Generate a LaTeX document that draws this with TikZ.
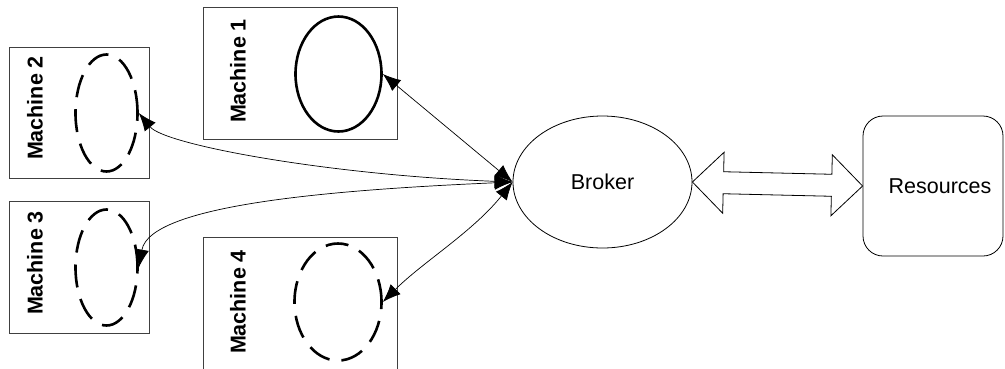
\documentclass[tikz,border=0pt]{standalone}
\usepackage{fontspec}
\setmainfont{Liberation Sans}
\usetikzlibrary{shapes.geometric,arrows.meta,calc}
\begin{document}
\begin{tikzpicture}[x=1pt,y=-1pt,
  machbox/.style={draw=black!75, line width=0.8pt, rectangle, inner sep=0pt},
  machlabel/.style={rotate=90, font=\fontsize{21.5}{25}\selectfont\bfseries, inner sep=0pt},
  proc/.style={draw=black, ellipse, line width=2.6pt, inner sep=0pt},
  idle/.style={proc, dash pattern=on 23pt off 12pt},
  link/.style={line width=0.7pt, {Latex[length=18pt,width=14pt]}-{Latex[length=18pt,width=14pt]}},
  plain/.style={font=\fontsize{21.5}{25}\selectfont, inner sep=0pt}]
\useasboundingbox (0,0) rectangle (1005,368);
\clip (0,0) rectangle (1005,368);

% machine boxes
\node[machbox, minimum width=194, minimum height=132] (m1) at (300,73) {};
\node[machbox, minimum width=140, minimum height=131] (m2) at (79,112.5) {};
\node[machbox, minimum width=140, minimum height=132] (m3) at (79,267) {};
\node[machbox, minimum width=194, minimum height=132] (m4) at (300,303) {};

% machine names
\node[machlabel] (l1) at (238,71) {Machine 1};
\node[machlabel] (l2) at (35,108) {Machine 2};
\node[machlabel] (l3) at (35,263) {Machine 3};
\node[machlabel] (l4) at (238,302) {Machine 4};

% processes inside the machines
\node[proc, minimum width=86, minimum height=115] (m1e) at (338.5,74) {};
\node[idle, minimum width=62, minimum height=117] (m2e) at (106.5,113) {};
\node[idle, minimum width=62, minimum height=116] (m3e) at (106.5,267.5) {};
\node[idle, minimum width=87, minimum height=117] (m4e) at (338,302) {};

% broker and resources
\node[draw, ellipse, line width=0.8pt, minimum width=179, minimum height=132, plain] (brk) at (602.5,182) {Broker};
\node[draw, rectangle, rounded corners=20pt, line width=0.8pt, minimum width=140, minimum height=140] (res) at (933,186) {};
\node[plain] (reslabel) at (940,186) {Resources};

% broker <-> machines
\draw[link] (brk.west) -- (m1e.east);
\draw[link] (brk.west) .. controls +(-183,-7) and +(26,32) .. (m2e.east);
\draw[link] (brk.west) .. controls +(-183,8) and +(11,-62.5) .. (m3e.east);
\draw[link] (brk.west) .. controls +(-40,50) and +(40,-40) .. (m4e.east);

% broker <-> resources: hollow double arrow
\coordinate (A) at (brk.east);
\coordinate (B) at (res.west);
\draw[line width=0.8pt, fill=white, line join=miter]
  (A)
  -- ($(A)!31pt!(B)!30.5pt!90:(B)$)
  -- ($(A)!31pt!(B)!11pt!90:(B)$)
  -- ($(B)!31pt!(A)!11pt!-90:(A)$)
  -- ($(B)!31pt!(A)!30.5pt!-90:(A)$)
  -- (B)
  -- ($(B)!31pt!(A)!30.5pt!90:(A)$)
  -- ($(B)!31pt!(A)!11pt!90:(A)$)
  -- ($(A)!31pt!(B)!11pt!-90:(B)$)
  -- ($(A)!31pt!(B)!30.5pt!-90:(B)$)
  -- cycle;
\end{tikzpicture}
\end{document}
